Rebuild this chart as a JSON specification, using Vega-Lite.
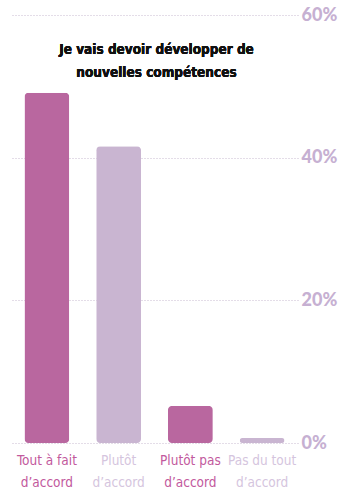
{
  "$schema": "https://vega.github.io/schema/vega-lite/v6.json",
  "width": 287,
  "height": 428,
  "autosize": {"type": "none"},
  "padding": {"left": 11, "top": 15, "right": 43, "bottom": 51},
  "background": "white",
  "config": {"view": {"stroke": null}},
  "data": {"values": [
    {"cat": "Tout à fait|d’accord", "val": 49.1, "grp": "a"},
    {"cat": "Plutôt|d’accord", "val": 41.6, "grp": "b"},
    {"cat": "Plutôt pas|d’accord", "val": 5.2, "grp": "a"},
    {"cat": "Pas du tout|d’accord", "val": 0.7, "grp": "b"}
  ]},
  "layer": [
    {
      "mark": {"type": "bar", "cornerRadius": 4},
      "encoding": {
        "x": {
          "field": "cat", "type": "nominal", "sort": null,
          "scale": {"paddingInner": 0.375, "paddingOuter": 0.1875},
          "axis": {
            "title": null, "domain": false, "ticks": false, "labelAngle": 0,
            "labelExpr": "split(datum.label, '|')",
            "labelFont": "DejaVu Sans Condensed",
            "labelFontSize": 13.5, "labelLineHeight": 22, "labelPadding": 10,
            "labelBaseline": "top",
            "labelColor": {"condition": {"test": "indexof(datum.label, 'Plutôt|') >= 0 || indexof(datum.label, 'Pas du') >= 0", "value": "#d5c5de"}, "value": "#c2599d"}
          }
        },
        "y": {
          "field": "val", "type": "quantitative",
          "scale": {"domain": [0, 60]},
          "axis": {
            "orient": "right", "title": null, "domain": false, "ticks": false,
            "values": [0, 20, 40, 60],
            "labelExpr": "datum.value + '%'",
            "labelFont": "Lato", "labelFontWeight": 900,
            "labelFontSize": 18, "labelColor": "#c6b0d2", "labelPadding": 3,
            "gridColor": "#c8bad0", "gridDash": [1, 2], "gridWidth": 1
          }
        },
        "color": {
          "field": "grp", "type": "nominal", "legend": null,
          "scale": {"domain": ["a", "b"], "range": ["#b9679f", "#c9b5d1"]}
        }
      }
    },
    {
      "mark": {"type": "text", "text": ["Je vais devoir développer de", "nouvelles compétences"], "font": "DejaVu Sans Condensed", "fontWeight": "bold", "fontSize": 13.5, "lineHeight": 23, "color": "#111111", "align": "center", "baseline": "top", "dx": 2},
      "encoding": {"y": {"datum": 56.1, "type": "quantitative"}}
    }
  ]
}
